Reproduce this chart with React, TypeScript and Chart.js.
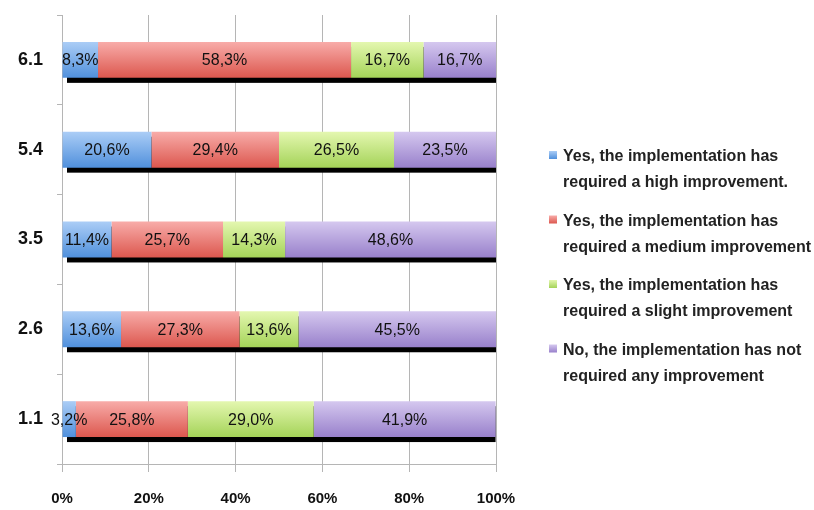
import React, { useEffect, useRef } from "react";
import { Chart, registerables } from "chart.js";

Chart.register(...registerables);

const categories = ["6.1", "5.4", "3.5", "2.6", "1.1"];
const highImprovement = [8.3, 20.6, 11.4, 13.6, 3.2];
const mediumImprovement = [58.3, 29.4, 25.7, 27.3, 25.8];
const slightImprovement = [16.7, 26.5, 14.3, 13.6, 29.0];
const noImprovement = [16.7, 23.5, 48.6, 45.5, 41.9];
const xTickValues = [0, 20, 40, 60, 80, 100];

const seriesNames = [
  ["Yes, the implementation has", "required a high improvement."],
  ["Yes, the implementation has", "required a medium improvement"],
  ["Yes, the implementation has", "required a slight improvement"],
  ["No, the implementation has not", "required any improvement"],
];

const gradients = [
  ["#abcdf6", "#5090dc"],
  ["#f8aca9", "#dc574e"],
  ["#e4f7b0", "#a4d358"],
  ["#d5c8ef", "#9880cb"],
];

const FONT = "'Liberation Sans Narrow', 'Liberation Sans', sans-serif";

function makeGradient(ctx: CanvasRenderingContext2D, top: number, bottom: number, c: string[]) {
  const g = ctx.createLinearGradient(0, top, 0, bottom);
  g.addColorStop(0, c[0]);
  g.addColorStop(1, c[1]);
  return g;
}

export default function App() {
  const ref = useRef<HTMLCanvasElement | null>(null);

  useEffect(() => {
    document.body.style.margin = "0";
    const canvas = ref.current;
    if (!canvas) return;

    const shadowPlugin = {
      id: "barShadow",
      beforeDatasetsDraw(chart: any) {
        const ctx = chart.ctx;
        const xs = chart.scales.x;
        const meta0 = chart.getDatasetMeta(0);
        ctx.save();
        ctx.fillStyle = "#000";
        meta0.data.forEach((el: any, i: number) => {
          let sum = 0;
          chart.data.datasets.forEach((d: any) => (sum += d.data[i]));
          const left = xs.getPixelForValue(0) + 5;
          const right = xs.getPixelForValue(Math.min(sum, 100));
          const h = el.height;
          ctx.fillRect(left, el.y - h / 2 + 5, right - left, h);
        });
        ctx.restore();
      },
    };

    const labelPlugin = {
      id: "segLabels",
      afterDatasetsDraw(chart: any) {
        const ctx = chart.ctx;
        ctx.save();
        ctx.font = `16px ${FONT}`;
        ctx.fillStyle = "#111";
        ctx.textAlign = "center";
        ctx.textBaseline = "middle";
        chart.data.datasets.forEach((d: any, di: number) => {
          const meta = chart.getDatasetMeta(di);
          meta.data.forEach((el: any, i: number) => {
            const v = d.data[i];
            const txt = v.toFixed(1).replace(".", ",") + "%";
            ctx.fillText(txt, (el.x + el.base) / 2, el.y + 1);
          });
        });
        ctx.restore();
      },
    };

    const legendPlugin = {
      id: "customLegend",
      afterDraw(chart: any) {
        const ctx = chart.ctx;
        ctx.save();
        ctx.font = `bold 16px ${FONT}`;
        ctx.textBaseline = "middle";
        ctx.textAlign = "left";
        const startY = 157;
        const itemGap = 64.5;
        const lineGap = 26;
        seriesNames.forEach((lines, i) => {
          const y = startY + i * itemGap;
          ctx.fillStyle = makeGradient(ctx, y - 6, y + 2, gradients[i]);
          ctx.fillRect(549, y - 6, 8, 8);
          ctx.fillStyle = "#222";
          lines.forEach((ln, li) => ctx.fillText(ln, 563, y + li * lineGap));
        });
        ctx.restore();
      },
    };

    const seriesData = [highImprovement, mediumImprovement, slightImprovement, noImprovement];

    const chart = new Chart(canvas, {
      type: "bar",
      data: {
        labels: categories,
        datasets: seriesData.map((data, di) => ({
          label: seriesNames[di].join(" "),
          data,
          borderWidth: 0,
          categoryPercentage: 1,
          barPercentage: 0.4,
          backgroundColor: (c: any) => {
            const ch = c.chart;
            const ys = ch.scales && ch.scales.y;
            if (!ys || c.type !== "data") return gradients[di][1];
            const yc = ys.getPixelForValue(c.dataIndex);
            const half = (ys.height / categories.length) * 0.2;
            if (!isFinite(yc) || !isFinite(half) || half <= 0) return gradients[di][1];
            return makeGradient(ch.ctx, yc - half, yc + half, gradients[di]);
          },
        })),
      },
      options: {
        indexAxis: "y",
        animation: false,
        responsive: false,
        maintainAspectRatio: false,
        layout: { padding: { left: 0, right: 318, top: 15, bottom: 0 } },
        plugins: {
          legend: { display: false },
          tooltip: { enabled: false },
        },
        scales: {
          x: {
            stacked: true,
            min: 0,
            max: 100,
            afterBuildTicks: (s: any) => {
              s.ticks = xTickValues.map((v) => ({ value: v }));
            },
            afterFit: (s: any) => {
              s.height = 46;
              s.paddingLeft = 0;
              s.paddingRight = 0;
            },
            ticks: {
              callback: (v: any) => v + "%",
              color: "#111",
              font: { family: FONT, size: 15, weight: "bold" },
              padding: 18,
              maxRotation: 0,
            },
            grid: { color: "#b5b5b5", tickLength: 8, lineWidth: 1 },
            border: { color: "#b5b5b5" },
          },
          y: {
            stacked: true,
            afterFit: (s: any) => {
              s.width = 62;
              s.paddingTop = 0;
              s.paddingBottom = 0;
            },
            ticks: {
              color: "#111",
              font: { family: FONT, size: 18, weight: "bold" },
              padding: 14,
            },
            grid: { drawOnChartArea: false, tickLength: 5, color: "#b5b5b5" },
            border: { color: "#b5b5b5" },
          },
        },
      },
      plugins: [shadowPlugin, labelPlugin, legendPlugin],
    } as any);

    return () => chart.destroy();
  }, []);

  return (
    <div style={{ width: 814, height: 510, background: "#fff" }}>
      <canvas ref={ref} width={814} height={510} style={{ display: "block" }} />
    </div>
  );
}
